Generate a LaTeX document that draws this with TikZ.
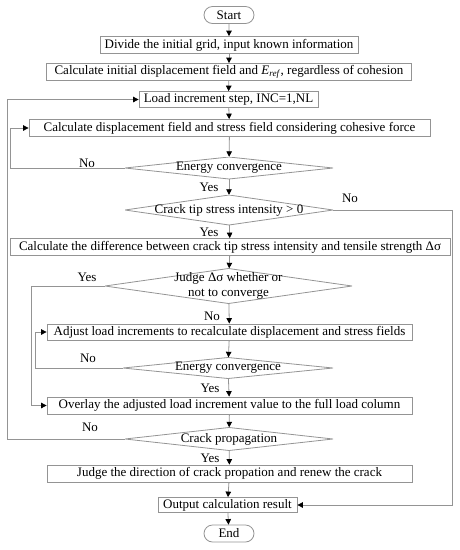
\documentclass[tikz,border=0pt]{standalone}
\usepackage{fontspec}
\setmainfont{Liberation Serif}
\usetikzlibrary{arrows.meta,shapes.misc,positioning}

\begin{document}
\begin{tikzpicture}[x=1pt, y=1pt,
    font=\fontsize{13}{14.5}\selectfont,
    line/.style={draw=black!42, line width=0.8pt},
    arr/.style={line, -{Triangle[length=5.5pt,width=5.5pt,color=black]}},
    box/.style={line, rectangle, minimum height=17pt, inner sep=1pt},
    term/.style={line, rounded rectangle, minimum height=17pt, minimum width=52pt, inner sep=1pt},
    test/.style={rectangle, inner sep=0pt, path picture={
        \draw[line] (path picture bounding box.west) -- (path picture bounding box.north)
            -- (path picture bounding box.east) -- (path picture bounding box.south) -- cycle;}},
    lab/.style={inner sep=0pt}]

    \useasboundingbox (0,0) rectangle (459,-550);

    % main column
    \node[term] (start) at (229,-15) {Start};
    \node[box, minimum width=258pt] (init) at (229,-45) {Divide the initial grid, input known information};
    \node[box, minimum width=365pt] (disp0) at (229,-72) {Calculate initial displacement field and \textit{E}\textsubscript{\textit{ref}}, regardless of cohesion};
    \node[box, minimum width=179pt, minimum height=16pt] (inc) at (228.5,-99.5) {Load increment step, INC=1,NL};
    \node[box, minimum width=401pt] (disp) at (229.5,-128) {Calculate displacement field and stress field considering cohesive force};
    \node[test, minimum width=208pt, minimum height=22pt] (conv1) at (229,-168) {Energy convergence};
    \node[test, minimum width=208pt, minimum height=30pt] (tip) at (229,-210) {Crack tip stress intensity > 0};
    \node[box, minimum width=440pt] (diff) at (230,-247) {Calculate the difference between crack tip stress intensity and tensile strength Δσ};
    \node[test, minimum width=247pt, minimum height=35pt, align=center] (judge) at (228.5,-286) {Judge Δσ whether or\\not to converge};
    \node[box, minimum width=365pt, minimum height=16pt] (adjust) at (229.5,-332) {Adjust load increments to recalculate displacement and stress fields};
    \node[test, minimum width=210pt, minimum height=21pt] (conv2) at (228,-368) {Energy convergence};
    \node[box, minimum width=365pt] (overlay) at (229.5,-405.5) {Overlay the adjusted load increment value to the full load column};
    \node[test, minimum width=208pt, minimum height=23pt] (prop) at (229,-439) {Crack propagation};
    \node[box, minimum width=365pt] (renew) at (229.5,-473.5) {Judge the direction of crack propation and renew the crack};
    \node[box, minimum width=139pt, minimum height=15pt] (output) at (227.5,-505) {Output calculation result};
    \node[term] (end) at (229,-533.5) {End};

    % straight arrows
    \draw[arr] (start) -- (init);
    \draw[arr] (init) -- (disp0);
    \draw[arr] (disp0) -- (inc);
    \draw[arr] (inc) -- (disp);
    \draw[arr] (disp) -- (conv1);
    \draw[arr] (conv1) -- (tip);
    \draw[arr] (tip) -- (diff);
    \draw[arr] (diff) -- (judge);
    \draw[arr] (judge) -- (adjust);
    \draw[arr] (adjust) -- (conv2);
    \draw[arr] (conv2) -- (overlay);
    \draw[arr] (overlay) -- (prop);
    \draw[arr] (prop) -- (renew);
    \draw[arr] (renew) -- (output);
    \draw[arr] (output) -- (end);

    % loop corners
    \coordinate (xa) at (7,0);
    \coordinate (xb) at (10,0);
    \coordinate (xc) at (31,0);
    \coordinate (xd) at (35,0);
    \coordinate (xe) at (452,0);

    % loops
    \draw[arr] (conv1.west) -- (conv1.west -| xb) |- (disp.west);
    \draw[arr] (prop.west) -- (prop.west -| xa) |- (inc.west);
    \draw[arr] (judge.west) -- (judge.west -| xc) |- (overlay.west);
    \draw[arr] (conv2.west) -- (conv2.west -| xd) |- (adjust.west);
    \draw[arr] (tip.east) -- (tip.east -| xe) |- (output.east);

    % labels
    \node[lab] (no1) at (87,-163) {No};
    \node[lab] (yes1) at (209,-187) {Yes};
    \node[lab] (no2) at (350,-198) {No};
    \node[lab] (yes2) at (209,-232) {Yes};
    \node[lab] (yes3) at (87,-277) {Yes};
    \node[lab] (no3) at (212,-316) {No};
    \node[lab] (no4) at (88,-358) {No};
    \node[lab] (yes4) at (210,-388) {Yes};
    \node[lab] (no5) at (90,-427) {No};
    \node[lab] (yes5) at (210,-458) {Yes};

\end{tikzpicture}
\end{document}
